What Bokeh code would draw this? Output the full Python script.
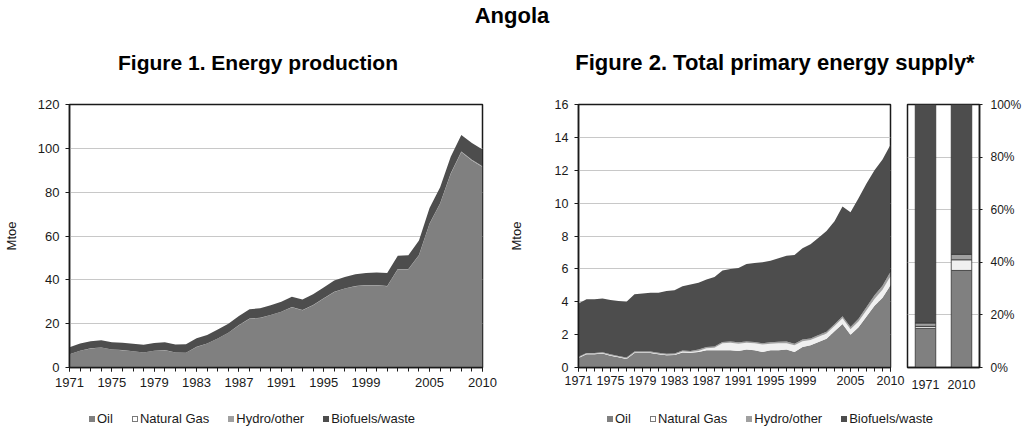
from bokeh.plotting import figure
from bokeh.models import (Div, FixedTicker, NumeralTickFormatter, FactorRange,
                          ColumnDataSource, Range1d)
from bokeh.layouts import column, row
from bokeh.embed import file_html
from bokeh.resources import INLINE

# ---------------- data ----------------
years = list(range(1971, 2011))
labeled_years = [1971, 1975, 1979, 1983, 1987, 1991, 1995, 1999, 2005, 2010]

# Figure 1: energy production (Mtoe)
prod_oil = [6.0, 7.6, 8.7, 9.1, 8.2, 7.9, 7.4, 6.8, 7.6, 7.9,
            6.8, 6.7, 9.4, 10.9, 13.2, 15.8, 19.3, 22.3, 22.6, 23.9,
            25.4, 27.5, 26.1, 28.4, 31.5, 34.5, 36.0, 37.1, 37.5, 37.5,
            37.1, 44.8, 44.8, 51.2, 65.6, 74.8, 88.4, 98.3, 94.5, 91.5]

# Figure 2: total primary energy supply (Mtoe)
tpes_oil = [0.58, 0.80, 0.80, 0.85, 0.72, 0.62, 0.52, 0.88, 0.88, 0.88,
            0.80, 0.75, 0.76, 0.92, 0.90, 0.95, 1.05, 1.05, 1.05, 1.05,
            1.00, 1.10, 1.05, 0.95, 1.05, 1.05, 1.10, 0.95, 1.25, 1.35,
            1.55, 1.75, 2.20, 2.65, 2.00, 2.45, 3.10, 3.75, 4.25, 5.00]
tpes_gas = [0.03, 0.03, 0.03, 0.03, 0.03, 0.03, 0.03, 0.03, 0.03, 0.03,
            0.03, 0.03, 0.03, 0.05, 0.05, 0.06, 0.12, 0.15, 0.42, 0.45,
            0.45, 0.40, 0.42, 0.45, 0.40, 0.42, 0.38, 0.40, 0.35, 0.32,
            0.32, 0.32, 0.33, 0.35, 0.33, 0.35, 0.38, 0.42, 0.48, 0.55]
tpes_hydro = [0.05, 0.05, 0.05, 0.05, 0.05, 0.05, 0.06, 0.06, 0.06, 0.06,
              0.06, 0.06, 0.06, 0.06, 0.06, 0.08, 0.08, 0.08, 0.08, 0.08,
              0.08, 0.08, 0.08, 0.08, 0.08, 0.10, 0.10, 0.10, 0.10, 0.10,
              0.10, 0.10, 0.10, 0.12, 0.14, 0.17, 0.20, 0.22, 0.24, 0.28]
tpes_bio = [3.24, 3.27, 3.27, 3.27, 3.30, 3.35, 3.39, 3.48, 3.53, 3.58,
            3.66, 3.81, 3.85, 3.92, 4.04, 4.06, 4.10, 4.22, 4.35, 4.42,
            4.52, 4.72, 4.80, 4.92, 4.97, 5.08, 5.22, 5.40, 5.55, 5.73,
            5.93, 6.13, 6.27, 6.68, 6.98, 7.33, 7.52, 7.61, 7.68, 7.72]

series_names = ["Oil", "Natural Gas", "Hydro/other", "Biofuels/waste"]
series_colors = ["#808080", "#f0f0f0", "#a0a0a0", "#4d4d4d"]
share_years = ["1971", "2010"]

FONT = "Liberation Sans"
TXT = "#1a1a1a"


def style_axis(ax, size="12px"):
    ax.major_label_text_font = FONT
    ax.major_label_text_font_size = size
    ax.major_label_text_color = TXT
    ax.axis_line_color = TXT
    ax.axis_line_width = 1.5
    ax.major_tick_line_color = TXT
    ax.major_tick_in = 0
    ax.major_tick_out = 4
    ax.minor_tick_in = 0
    ax.minor_tick_out = 4
    ax.minor_tick_line_color = TXT
    ax.axis_label_text_font = FONT
    ax.axis_label_text_font_style = "normal"
    ax.axis_label_text_font_size = "13px"
    ax.axis_label_text_color = TXT


def style_fig(p):
    p.outline_line_color = TXT
    p.outline_line_width = 1.5
    p.background_fill_color = "white"
    p.border_fill_color = "white"
    p.xgrid.grid_line_color = None
    p.ygrid.grid_line_color = "#c8c8c8"
    p.ygrid.grid_line_width = 1


# ---------------- Figure 1 ----------------
src1 = ColumnDataSource(dict(year=years, oil=prod_oil, hydro=tpes_hydro, bio=tpes_bio))
p1 = figure(width=505, height=299, x_range=Range1d(1971, 2010), y_range=Range1d(0, 120),
            output_backend="svg", toolbar_location=None,
            min_border_left=65, min_border_right=23, min_border_top=8, min_border_bottom=28)
style_fig(p1)
p1.varea_stack(["oil", "hydro", "bio"], x="year", source=src1,
               color=[series_colors[0], series_colors[2], series_colors[3]])
p1.xaxis.ticker = FixedTicker(ticks=labeled_years, minor_ticks=years)
p1.yaxis.ticker = FixedTicker(ticks=[0, 20, 40, 60, 80, 100, 120])
style_axis(p1.xaxis[0], "13px")
style_axis(p1.yaxis[0], "13px")
p1.xaxis.major_label_standoff = 6
p1.yaxis.major_label_standoff = 6
p1.yaxis.axis_label = "Mtoe"
p1.yaxis.axis_label_standoff = 16

# ---------------- Figure 2 ----------------
src2 = ColumnDataSource(dict(year=years, oil=tpes_oil, gas=tpes_gas, hydro=tpes_hydro, bio=tpes_bio))
p2 = figure(width=400, height=299, x_range=Range1d(1971, 2010), y_range=Range1d(0, 16),
            output_backend="svg", toolbar_location=None,
            min_border_left=70, min_border_right=15, min_border_top=8, min_border_bottom=28)
style_fig(p2)
p2.varea_stack(["oil", "gas", "hydro", "bio"], x="year", source=src2, color=series_colors)
p2.xaxis.ticker = FixedTicker(ticks=labeled_years, minor_ticks=years)
p2.yaxis.ticker = FixedTicker(ticks=list(range(0, 17, 2)))
style_axis(p2.xaxis[0], "12.5px")
style_axis(p2.yaxis[0], "12.5px")
p2.xaxis.major_label_standoff = 4
p2.yaxis.major_label_standoff = 6
p2.yaxis.axis_label = "Mtoe"
p2.yaxis.axis_label_standoff = 28

# ---------------- Figure 3 (shares) ----------------
def shares(i):
    vals = [tpes_oil[i], tpes_gas[i], tpes_hydro[i], tpes_bio[i]]
    tot = sum(vals)
    return [v / tot for v in vals]

s71 = shares(0)
s10 = shares(-1)
src3 = ColumnDataSource(dict(cat=share_years,
                             oil=[s71[0], s10[0]], gas=[s71[1], s10[1]],
                             hydro=[s71[2], s10[2]], bio=[s71[3], s10[3]]))
p3 = figure(width=119, height=299, x_range=FactorRange(factors=share_years, range_padding=0),
            y_range=Range1d(0, 1), y_axis_location="right",
            output_backend="svg", toolbar_location=None,
            min_border_left=2, min_border_right=45, min_border_top=8, min_border_bottom=28)
style_fig(p3)
p3.vbar_stack(["oil", "gas", "hydro", "bio"], x="cat", width=0.57, source=src3,
              color=series_colors, line_color="#333333", line_width=0.8)
p3.yaxis.ticker = FixedTicker(ticks=[0, 0.2, 0.4, 0.6, 0.8, 1.0])
p3.yaxis.formatter = NumeralTickFormatter(format="0%")
style_axis(p3.xaxis[0], "12.5px")
style_axis(p3.yaxis[0], "12px")
p3.xaxis.major_tick_line_color = None
p3.xaxis.major_label_standoff = 8
p3.yaxis.major_tick_out = 3
p3.yaxis.major_label_standoff = 8

# ---------------- titles & legends (HTML) ----------------
def span(txt, left, top, size, bold=True):
    return (f'<span style="position:absolute;left:{left}px;top:{top}px;'
            f'transform:translateX(-50%);white-space:nowrap;font-size:{size}px;'
            f'line-height:1;font-weight:{"bold" if bold else "normal"};color:#000;">{txt}</span>')

top_html = ('<div style="position:relative;width:1024px;height:96px;'
            f'font-family:\'{FONT}\',Arial,sans-serif;">'
            + span("Angola", 512, 5, 22)
            + span("Figure 1. Energy production", 258, 52, 21)
            + span("Figure 2. Total primary energy supply*", 775, 52, 22)
            + '</div>')
top_div = Div(text=top_html, width=1024, height=96, margin=(0, 0, 0, 0))


def legend_html(left, top):
    items = []
    for name, col in zip(series_names, series_colors):
        border = "#7a7a7a" if col == "#f0f0f0" else col
        fill = "#ffffff" if col == "#f0f0f0" else col
        items.append(
            '<span style="display:inline-flex;align-items:center;margin-right:19px;">'
            f'<span style="display:inline-block;width:6px;height:6px;background:{fill};'
            f'border:1px solid {border};margin-right:2px;"></span>'
            f'<span>{name}</span></span>')
    return (f'<div style="position:absolute;left:{left}px;top:{top}px;display:flex;'
            f'white-space:nowrap;font-size:13px;line-height:1;color:{TXT};">'
            + "".join(items) + '</div>')


bottom_html = ('<div style="position:relative;width:1024px;height:38px;'
               f'font-family:\'{FONT}\',Arial,sans-serif;">'
               + legend_html(89, 17) + legend_html(607, 17) + '</div>')
bottom_div = Div(text=bottom_html, width=1024, height=38, margin=(0, 0, 0, 0))

layout = column(top_div, row(p1, p2, p3), bottom_div)

with open("out.html", "w") as f:
    f.write(file_html(layout, INLINE, title="Angola"))
